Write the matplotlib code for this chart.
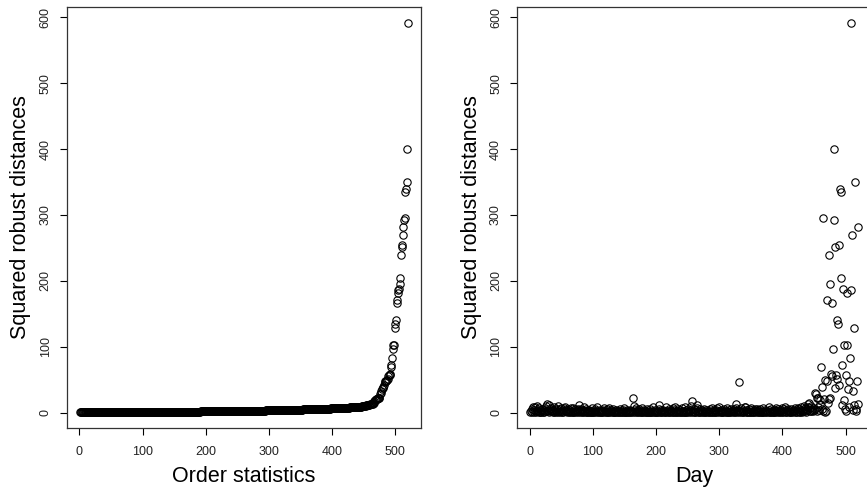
import numpy as np
import matplotlib
matplotlib.use("Agg")
import matplotlib.pyplot as plt

plt.rcParams['font.family'] = ['Liberation Sans', 'DejaVu Sans']

# squared robust distances, one per day
dist = [
    0.4, 2.1, 5.3, 1.2, 7.8, 0.9, 3.4, 8.6, 1.7, 0.3, 10.2, 4.6, 2.8, 0.6, 6.9, 1.4, 3.9, 0.8, 2.5, 5.7,
    1.1, 4.2, 0.5, 7.1, 2.9, 9.4, 12.6, 3.3, 1.6, 12.1, 0.7, 5.2, 2.4, 6.3, 1.9, 0.4, 3.7, 8.1, 1.3, 4.8,
    0.6, 2.7, 6.1, 9.2, 1.5, 3.1, 0.9, 5.5, 2.2, 7.4, 1.0, 4.1, 0.5, 6.7, 9.0, 2.6, 1.8, 3.6, 0.7, 5.0,
    2.0, 0.4, 4.4, 1.2, 6.5, 0.8, 3.0, 1.4, 7.6, 0.3, 2.3, 5.1, 0.6, 1.9, 3.5, 0.9, 4.9, 10.8, 2.1, 0.5,
    6.0, 1.1, 3.2, 0.7, 8.3, 1.6, 0.4, 2.8, 5.4, 0.6, 1.3, 3.8, 0.2, 4.3, 1.0, 2.4, 0.8, 6.6, 1.5, 0.3,
    3.1, 0.9, 2.0, 5.8, 0.5, 1.7, 8.0, 0.4, 2.6, 1.2, 4.0, 0.7, 1.4, 3.3, 0.3, 2.2, 6.2, 0.6, 1.8, 0.9,
    2.9, 0.4, 4.7, 1.1, 7.0, 0.6, 1.6, 3.4, 0.3, 2.1, 0.8, 5.3, 1.3, 0.5, 2.7, 0.9, 4.1, 0.2, 1.9, 3.0,
    0.7, 1.5, 5.9, 0.4, 2.3, 1.0, 3.7, 0.6, 6.4, 1.2, 0.3, 2.5, 0.8, 4.5, 1.4, 0.5, 2.0, 3.2, 0.9, 1.7,
    0.4, 2.8, 22.0, 1.1, 10.3, 4.2, 0.6, 7.3, 1.8, 0.3, 3.6, 1.0, 5.0, 0.7, 2.4, 0.5, 1.3, 6.8, 0.9, 2.2,
    3.9, 0.4, 1.6, 0.8, 4.8, 1.2, 0.3, 2.6, 0.6, 5.6, 1.4, 0.9, 3.1, 0.5, 7.7, 1.0, 2.0, 0.7, 4.4, 1.5,
    0.3, 2.9, 0.8, 6.1, 11.0, 1.3, 3.5, 0.5, 1.9, 0.9, 4.6, 0.4, 2.3, 1.1, 8.4, 0.6, 3.0, 1.7, 0.2, 5.2,
    1.0, 0.6, 2.7, 4.0, 0.4, 1.5, 6.9, 0.8, 3.4, 7.9, 1.2, 0.3, 2.1, 5.4, 0.7, 1.8, 0.5, 3.8, 1.1, 0.9,
    6.3, 0.4, 2.5, 1.3, 8.8, 0.6, 4.3, 1.0, 0.3, 2.9, 5.7, 0.8, 1.6, 3.3, 0.5, 9.6, 17.6, 2.0, 0.7, 4.9,
    1.4, 0.9, 3.6, 7.2, 12.0, 0.4, 2.2, 1.1, 5.1, 0.6, 1.7, 0.3, 3.9, 0.8, 2.4, 6.0, 1.2, 0.5, 4.2, 1.9,
    0.7, 3.1, 1.0, 0.4, 5.5, 2.6, 0.9, 1.5, 7.5, 0.3, 2.0, 4.5, 0.6, 1.3, 3.2, 0.8, 6.7, 1.8, 0.5, 8.2,
    2.3, 0.7, 4.1, 1.1, 0.4, 3.0, 5.9, 0.9, 1.6, 0.3, 2.7, 6.6, 1.0, 0.6, 3.7, 1.4, 0.8, 4.8, 2.1, 0.5,
    1.7, 3.5, 0.4, 5.3, 1.2, 7.0, 12.6, 0.7, 2.4, 4.4, 47.0, 0.9, 1.9, 6.2, 0.3, 3.2, 1.0, 0.6, 2.8, 8.9,
    9.1, 0.5, 4.0, 1.5, 2.6, 0.8, 5.8, 0.4, 1.3, 7.4, 3.4, 0.7, 1.1, 2.2, 0.3, 4.7, 1.6, 0.9, 6.1, 2.0,
    0.6, 3.8, 1.2, 0.4, 5.0, 2.5, 0.8, 1.4, 6.8, 0.5, 3.1, 1.0, 4.3, 0.7, 2.1, 1.8, 0.3, 8.0, 3.6, 1.1,
    0.9, 5.6, 2.3, 0.4, 1.5, 4.6, 0.7, 3.3, 1.2, 7.1, 0.6, 2.0, 5.2, 0.8, 1.7, 0.3, 3.9, 2.7, 6.4, 1.0,
    0.5, 2.9, 4.9, 8.5, 1.3, 0.7, 3.5, 1.9, 6.0, 0.4, 2.4, 1.1, 5.4, 0.8, 3.0, 1.6, 0.6, 4.2, 2.2, 7.5,
    1.4, 0.9, 3.7, 6.5, 2.0, 0.5, 5.1, 1.2, 7.8, 3.2, 0.8, 4.5, 2.6, 9.3, 1.7, 6.8, 3.9, 0.7, 5.6, 8.7,
    13.7, 15.0, 3.1, 6.2, 1.8, 9.5, 4.0, 2.2, 7.5, 3.4, 29.8, 5.1, 28.0, 2.6, 22.8, 8.3, 22.0, 4.4, 19.0, 12.5,
    69.0, 6.0, 39.0, 2.0, 295.0, 20.0, 1.5, 49.6, 3.0, 170.6, 48.6, 15.0, 20.0, 239.5, 22.0, 195.0, 59.0, 166.0, 55.0, 97.0,
    293.0, 400.0, 252.0, 37.0, 57.0, 51.0, 140.0, 134.0, 254.0, 41.5, 340.0, 205.0, 335.0, 72.0, 11.0, 188.0, 103.0, 19.0, 5.0, 2.5,
    56.7, 182.0, 103.0, 35.0, 48.0, 8.0, 83.0, 592.0, 186.0, 269.0, 32.0, 4.0, 11.0, 128.0, 350.0, 3.0, 6.0, 47.6, 13.0, 281.5,
]
x_ticks = [0, 100, 200, 300, 400, 500]
y_ticks = [0, 100, 200, 300, 400, 500, 600]

dist = np.array(dist)
n = len(dist)
days = np.arange(1, n + 1)
ordered = np.sort(dist)

fig = plt.figure(figsize=(8.67, 4.9), dpi=100)
ax1 = fig.add_axes([0.0773, 0.1265, 0.4083, 0.8592])
ax2 = fig.add_axes([0.5967, 0.1265, 0.4083, 0.8592])


def r_style(ax, xlabel):
    # R-like look: 4% padding, outward ticks, rotated y labels
    xr = n - 1
    ax.set_xlim(1 - 0.04 * xr, n + 0.04 * xr)
    yr = dist.max() - dist.min()
    ax.set_ylim(dist.min() - 0.04 * yr, dist.max() + 0.04 * yr)
    ax.set_xticks(x_ticks)
    ax.set_yticks(y_ticks)
    ax.set_yticklabels([str(t) for t in y_ticks], rotation=90, va='center')
    ax.tick_params(direction='out', length=5, width=0.8, labelsize=9,
                   labelcolor='#222222')
    ax.tick_params(axis='x', pad=8)
    ax.tick_params(axis='y', pad=6)
    for s in ax.spines.values():
        s.set_linewidth(0.9)
        s.set_color('#333333')
    ax.set_xlabel(xlabel, fontsize=15.5, labelpad=6)
    ax.set_ylabel('Squared robust distances', fontsize=15.5, labelpad=6)


ax1.plot(days, ordered, 'o', mfc='none', mec='black', ms=5.3, mew=0.8)
r_style(ax1, 'Order statistics')

ax2.plot(days, dist, 'o', mfc='none', mec='black', ms=5.3, mew=0.8)
r_style(ax2, 'Day')

fig.savefig('out.png', dpi=100)
